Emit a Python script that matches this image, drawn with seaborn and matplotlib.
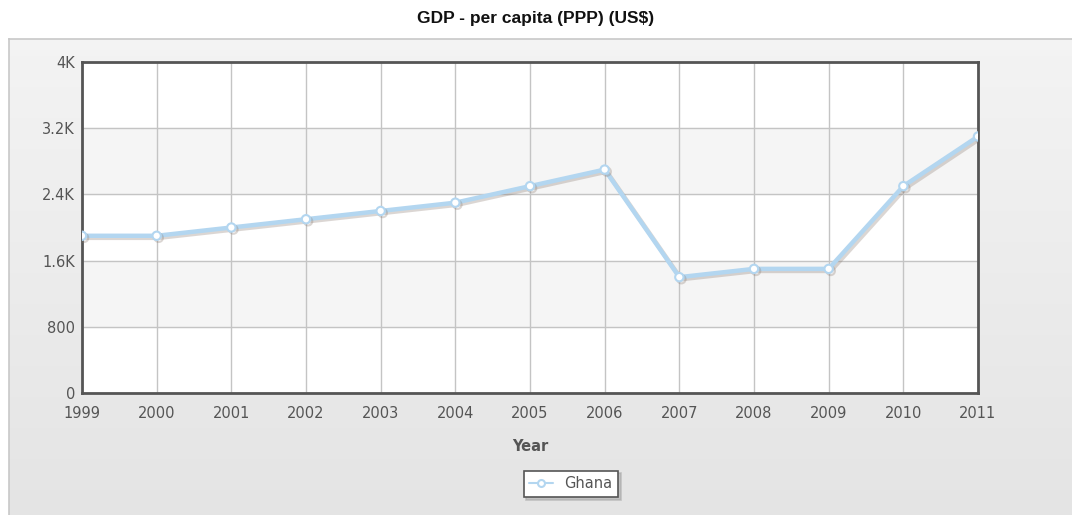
import numpy as np
import pandas as pd
import matplotlib
matplotlib.use("Agg")
import matplotlib.pyplot as plt
import matplotlib.patheffects as pe
from matplotlib.ticker import FuncFormatter
import seaborn as sns

# data
years = [1999, 2000, 2001, 2002, 2003, 2004, 2005, 2006, 2007, 2008, 2009, 2010, 2011]
gdp = [1900, 1900, 2000, 2100, 2200, 2300, 2500, 2700, 1400, 1500, 1500, 2500, 3100]
y_ticks = [0, 800, 1600, 2400, 3200, 4000]

df = pd.DataFrame({"Year": years, "GDP": gdp})

sns.set_theme(style="white")
plt.rcParams['font.family'] = ['DejaVu Sans']

W, H = 1072, 515
fig = plt.figure(figsize=(W / 100, H / 100), dpi=100)
fig.patch.set_facecolor("white")

# gradient background panel
bg = fig.add_axes([9 / W, 0, 1 - 9 / W, (515 - 39) / H])
grad = np.linspace(0.955, 0.895, 256).reshape(-1, 1)
bg.imshow(np.dstack([grad, grad, grad]), aspect="auto", extent=[0, 1, 0, 1])
bg.set_xlim(0, 1)
bg.set_ylim(0, 1)
bg.set_xticks([])
bg.set_yticks([])
for s in bg.spines.values():
    s.set_color("#c8c8c8")
    s.set_linewidth(1.2)
bg.spines["right"].set_visible(False)
bg.spines["bottom"].set_visible(False)

ax = fig.add_axes([82 / W, (515 - 393) / H, (978 - 82) / W, (393 - 62) / H])
ax.set_facecolor("white")
# alternating bands
for i in range(len(y_ticks) - 1):
    if i % 2 == 1:
        ax.axhspan(y_ticks[i], y_ticks[i + 1], color="#f5f5f5", zorder=0)

sns.lineplot(data=df, x="Year", y="GDP", ax=ax, color="#b3d6f0", linewidth=3.2,
             marker="o", markersize=6, markerfacecolor="white",
             markeredgecolor="#b3d6f0", markeredgewidth=1.5, zorder=5,
             label="Ghana",
             path_effects=[pe.SimpleLineShadow(offset=(1.5, -1.5), shadow_color="#8a7a70", alpha=0.3),
                           pe.Normal()])

ax.set_xlim(years[0], years[-1])
ax.set_ylim(0, 4000)
ax.set_xticks(years)
ax.set_yticks(y_ticks)
ax.yaxis.set_major_formatter(FuncFormatter(
    lambda v, p: "0" if v == 0 else (f"{v/1000:g}K" if v >= 1000 else f"{v:g}")))
ax.grid(True, color="#c4c4c4", linewidth=1)
ax.set_axisbelow(True)
for s in ax.spines.values():
    s.set_color("#555555")
    s.set_linewidth(2)
ax.tick_params(axis="y", colors="#555555", labelsize=10.5, length=0, pad=5)
ax.tick_params(axis="x", colors="#555555", labelsize=10.5, length=0, pad=9)
for lbl in ax.get_xticklabels() + ax.get_yticklabels():
    lbl.set_color("#555555")

ax.set_xlabel("Year", fontsize=10.5, fontweight="bold", color="#555555", labelpad=13)
ax.set_ylabel("")

leg = ax.legend(loc="center", bbox_to_anchor=(571 / W, (515 - 484) / H),
                bbox_transform=fig.transFigure, frameon=True, fancybox=False,
                fontsize=10.5, handlelength=1.6, borderpad=0.4, shadow={"color": "#aaaaaa", "alpha": 0.6})
leg.get_frame().set_edgecolor("#555555")
leg.get_frame().set_linewidth(1.2)
for h in leg.legend_handles:
    h.set_linewidth(1.5)
    h.set_markersize(5)
    h.set_path_effects([])
for t in leg.get_texts():
    t.set_color("#555555")

fig.text(536 / W, 1 - 18 / H, "GDP - per capita (PPP) (US$)", ha="center", va="center",
         fontsize=12.5, fontweight="bold", color="#111111", family="Liberation Sans")

fig.savefig("out.png", dpi=100)
